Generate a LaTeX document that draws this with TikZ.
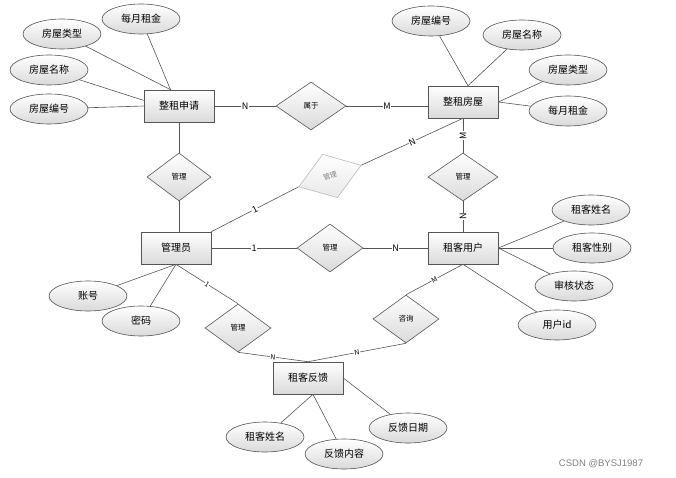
\documentclass[tikz,border=0pt]{standalone}
\usepackage{fontspec}
\setmainfont{Noto Sans CJK SC}
\newfontfamily\markfont{Liberation Sans}
\usepackage{tikz}
\usetikzlibrary{shapes.geometric, positioning, calc}
\definecolor{myline}{RGB}{85,85,85}
\definecolor{mygrey}{RGB}{218,218,218}
\definecolor{myfaint}{RGB}{185,185,185}
\tikzset{
  entity/.style={rectangle, draw=myline, top color=white, bottom color=mygrey,
    minimum width=70pt, minimum height=32pt, inner sep=0pt,
    font=\fontsize{10}{12}\selectfont, line width=0.6pt},
  attr/.style={ellipse, draw=myline, top color=white, bottom color=mygrey,
    minimum width=78pt, minimum height=30pt, inner sep=0pt,
    font=\fontsize{10}{12}\selectfont, line width=0.6pt},
  rel/.style={diamond, draw=myline, top color=white, bottom color=mygrey,
    minimum width=68pt, minimum height=48pt, inner sep=0pt,
    font=\fontsize{7.5}{9}\selectfont, line width=0.6pt},
  faintrel/.style={rel, draw=myfaint, bottom color=mygrey!60, text=gray,
    font=\fontsize{7}{8}\selectfont},
  card/.style={fill=white, inner sep=0.6pt, font=\fontsize{9}{10}\selectfont},
  smallcard/.style={card, font=\fontsize{7}{8}\selectfont},
  line/.style={draw=myline, line width=0.6pt}
}

\begin{document}
\begin{tikzpicture}[x=1pt, y=-1pt]
  \useasboundingbox (0,0) rectangle (676,478);

  % Entities
  \node[entity] (apply) at (179,106) {整租申请};
  \node[entity] (house) at (463,102) {整租房屋};
  \node[entity] (admin) at (176,248) {管理员};
  \node[entity] (tenant) at (463,248) {租客用户};
  \node[entity] (feedback) at (308,378) {租客反馈};

  % Relations
  \node[rel, minimum width=70pt] (belong) at (311,106) {属于};
  \node[rel, minimum width=64pt] (mgrA) at (179,177) {管理};
  \node[faintrel, minimum width=66pt, minimum height=46pt, rotate=19] (mgrH) at (330,176) {管理};
  \node[rel, minimum width=66pt] (mgrT) at (330,248) {管理};
  \node[rel, minimum width=70pt] (mgrHT) at (463,177) {管理};
  \node[rel, minimum width=66pt] (mgrF) at (238,328) {管理};
  \node[rel, minimum width=66pt] (ask) at (406,319) {咨询};

  % Attributes of 整租申请
  \node[attr] (aRent) at (141,19) {每月租金};
  \node[attr] (aType) at (62,34) {房屋类型};
  \node[attr] (aName) at (49,70) {房屋名称};
  \node[attr] (aNo) at (49,109) {房屋编号};

  % Attributes of 整租房屋
  \node[attr] (hNo) at (431,21) {房屋编号};
  \node[attr] (hName) at (522,35) {房屋名称};
  \node[attr] (hType) at (568,70) {房屋类型};
  \node[attr] (hRent) at (568,111) {每月租金};

  % Attributes of 租客用户
  \node[attr] (tName) at (591,210) {租客姓名};
  \node[attr] (tSex) at (592,248) {租客性别};
  \node[attr] (tState) at (574,286) {审核状态};
  \node[attr] (tId) at (557,325) {用户id};

  % Attributes of 管理员
  \node[attr] (acc) at (88,296) {账号};
  \node[attr] (pwd) at (141,321) {密码};

  % Attributes of 租客反馈
  \node[attr] (fName) at (265,437) {租客姓名};
  \node[attr] (fText) at (344,454) {反馈内容};
  \node[attr] (fDate) at (408,428) {反馈日期};

  \coordinate (apTop) at ($(apply.north west)!0.38!(apply.north east)$);
  \coordinate (hoTop) at ($(house.north west)!0.57!(house.north east)$);
  \coordinate (fbBot) at ($(feedback.south west)!0.57!(feedback.south east)$);

  % Attribute lines
  \draw[line] (aRent) -- (apTop);
  \draw[line] (aType) -- (apTop);
  \draw[line] (aName) -- (apply.171);
  \draw[line] (aNo) -- (apply.west);
  \draw[line] (hNo) -- (hoTop);
  \draw[line] (hName) -- (hoTop);
  \draw[line] (hType) -- (house.east);
  \draw[line] (hRent) -- (house.east);
  \draw[line] (tName) -- (tenant.east);
  \draw[line] (tSex) -- (tenant.east);
  \draw[line] (tState) -- (tenant.east);
  \draw[line] (tId) -- (tenant.south);
  \draw[line] (acc) -- (admin.south);
  \draw[line] (pwd) -- (admin.south);
  \draw[line] (fName) -- (fbBot);
  \draw[line] (fText) -- (fbBot);
  \draw[line] (fDate) -- (feedback.east);

  % Relation lines
  \draw[line] (apply.east) -- (belong.west) node[card, midway] {N};
  \draw[line] (belong.east) -- (belong.east -| house.west) node[card, midway] {M};
  \draw[line] (apply.south) -- (mgrA.north);
  \draw[line] (mgrA.south) -- (mgrA.south |- admin.north);
  \draw[line] (admin.north east) -- (mgrH.west) node[card, midway, sloped] {1};
  \draw[line] (mgrH.east) -- (house.south) node[card, midway, sloped] {N};
  \draw[line] (house.south) -- (mgrHT.north) node[card, midway, rotate=90] {M};
  \draw[line] (mgrHT.south) -- (tenant.north) node[card, midway, rotate=90] {N};
  \draw[line] (admin.east) -- (mgrT.west) node[card, midway] {1};
  \draw[line] (mgrT.east) -- (tenant.west) node[card, midway] {N};
  \draw[line] (tenant.south) -- (ask.north) node[smallcard, midway, sloped] {M};
  \draw[line] (ask.south) -- (feedback.north) node[smallcard, midway, sloped] {N};
  \draw[line] (admin.south) -- (mgrF.north) node[smallcard, midway, sloped] {1};
  \draw[line] (mgrF.south) -- (feedback.north) node[smallcard, midway, sloped] {N};

  % Watermark
  \node[font=\markfont\fontsize{9.5}{11}\selectfont, text=gray] (mark) at (601,464) {CSDN @BYSJ1987};
\end{tikzpicture}
\end{document}
